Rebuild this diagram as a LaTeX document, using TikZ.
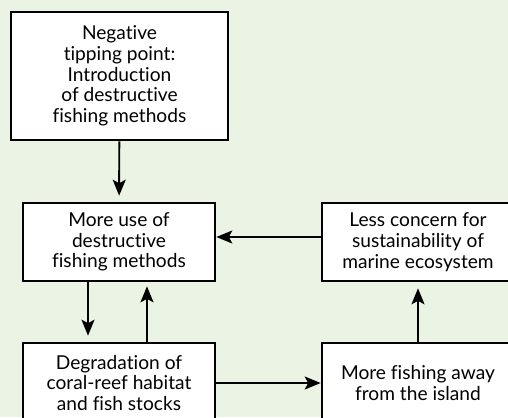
\documentclass[tikz,border=0pt]{standalone}
\usepackage{fontspec}
\setmainfont{Lato}[Ligatures=NoCommon]
\usetikzlibrary{arrows.meta}
\definecolor{bg}{RGB}{235,243,228}

\tikzset{
  box/.style={draw, line width=1.5pt, fill=white, align=center,
    inner sep=0pt, font=\fontsize{10.9}{11.8}\selectfont},
  arr/.style={-{Stealth[length=0.32cm,width=0.26cm,inset=0.07cm]}, line width=1.1pt}
}

\begin{document}
\begin{tikzpicture}[x=0.02cm,y=-0.02cm]
    \fill[bg] (0,0) rectangle (508,417);
    \clip (0,0) rectangle (508,417);
    \node[box, minimum width=217*0.02cm, minimum height=128*0.02cm] (tip) at (119.5,76)
      {Negative\\tipping point:\\Introduction\\of destructive\\fishing methods};
    \node[box, minimum width=192*0.02cm, minimum height=78*0.02cm] (use) at (119,242)
      {More use of\\destructive\\fishing methods};
    \node[box, minimum width=192*0.02cm, minimum height=78*0.02cm] (less) at (418,242)
      {Less concern for\\sustainability of\\marine ecosystem};
    \node[box, minimum width=192*0.02cm, minimum height=80*0.02cm] (degr) at (119,383)
      {Degradation of\\coral-reef habitat\\and fish stocks};
    \node[box, minimum width=192*0.02cm, minimum height=80*0.02cm] (away) at (418,383)
      {More fishing away\\from the island};

    \draw[arr, shorten >=0.12cm] (tip) -- (use);
    \draw[arr, shorten >=0.12cm] ([xshift=-0.62cm]use.south) -- ([xshift=-0.62cm]degr.north);
    \draw[arr, shorten >=0.08cm] ([xshift=0.56cm]degr.north) -- ([xshift=0.56cm]use.south);
    \draw[arr] ([yshift=0.1cm]less.west) -- ([yshift=0.1cm]use.east);
    \draw[arr] (degr) -- (away);
    \draw[arr, shorten >=0.12cm] (away) -- (less);
\end{tikzpicture}
\end{document}
